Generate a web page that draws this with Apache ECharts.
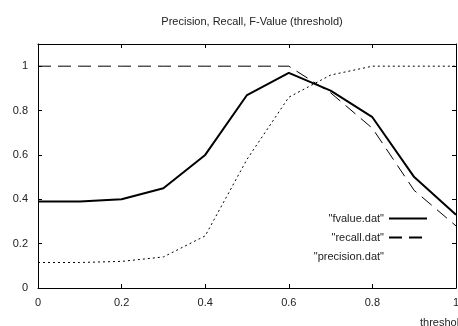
<!DOCTYPE html>
<html>
<head>
<meta charset="utf-8">
<script src="https://cdn.jsdelivr.net/npm/echarts@6/dist/echarts.min.js"></script>
<style>
  html, body {margin: 0; padding: 0; background: #fff;}
  #chart {width: 458px; height: 326px;}
</style>
</head>
<body>
<div id="chart"></div>
<script>
// threshold steps
const thresholds = [0, 0.1, 0.2, 0.3, 0.4, 0.5, 0.6, 0.7, 0.8, 0.9, 1];
const fvalue = [0.39, 0.39, 0.40, 0.45, 0.60, 0.87, 0.97, 0.89, 0.77, 0.50, 0.33];
const recall = [1, 1, 1, 1, 1, 1, 1, 0.88, 0.72, 0.44, 0.28];
const precision = [0.115, 0.115, 0.12, 0.14, 0.235, 0.58, 0.86, 0.96, 1, 1, 1];
const seriesNames = ['"fvalue.dat"', '"recall.dat"', '"precision.dat"'];

const font = 'Liberation Sans';
const pair = arr => thresholds.map((t, i) => [t, arr[i]]);

const chart = echarts.init(document.getElementById('chart'));

const tickAxis = (extra) => Object.assign({
  type: 'value',
  min: 0,
  interval: 0.2,
  axisLine: {show: true, onZero: false, lineStyle: {color: '#000', width: 1}},
  axisTick: {show: true, inside: true, length: 4, lineStyle: {color: '#000'}},
  splitLine: {show: false},
  axisLabel: {show: false}
}, extra);

chart.setOption({
  animation: false,
  backgroundColor: '#fff',
  title: {
    text: 'Precision, Recall, F-Value (threshold)',
    left: 247,
    top: 11,
    textAlign: 'center',
    textStyle: {fontFamily: font, fontSize: 11, fontWeight: 'normal', color: '#222'}
  },
  grid: {left: 38, right: 2, top: 44, bottom: 38, containLabel: false, outerBoundsMode: 'none'},
  legend: {
    orient: 'vertical',
    right: 25,
    top: 208,
    align: 'right',
    itemWidth: 38,
    itemHeight: 10,
    itemGap: 8,
    itemStyle: {opacity: 0},
    data: [
      {name: seriesNames[0]},
      {name: seriesNames[1]},
      {name: seriesNames[2], lineStyle: {opacity: 0}}
    ],
    textStyle: {fontFamily: font, fontSize: 11, color: '#222'}
  },
  xAxis: [
    tickAxis({
      max: 1,
      position: 'bottom',
      axisLabel: {show: true, margin: 9, fontFamily: font, fontSize: 11, color: '#222'},
      name: 'threshold',
      nameLocation: 'end',
      nameGap: -36,
      nameTextStyle: {fontFamily: font, fontSize: 11, color: '#222', align: 'left', verticalAlign: 'top', padding: [29, 0, 0, 0]}
    }),
    tickAxis({max: 1, position: 'top'})
  ],
  yAxis: [
    tickAxis({
      max: 1.1,
      position: 'left',
      axisLabel: {show: true, margin: 10, fontFamily: font, fontSize: 11, color: '#222',
        formatter: v => (v > 1.05 ? '' : String(v))}
    }),
    tickAxis({max: 1.1, position: 'right'})
  ],
  series: [
    {
      name: seriesNames[0],
      type: 'line',
      data: pair(fvalue),
      symbol: 'none',
      color: '#000',
      lineStyle: {color: '#000', width: 2}
    },
    {
      name: seriesNames[1],
      type: 'line',
      data: pair(recall),
      symbol: 'none',
      color: '#000',
      lineStyle: {color: '#000', width: 1, type: [13, 7]}
    },
    {
      name: seriesNames[2],
      type: 'line',
      data: pair(precision),
      symbol: 'none',
      color: '#000',
      lineStyle: {color: '#000', width: 1, type: [2, 3]}
    }
  ]
});
</script>
</body>
</html>
